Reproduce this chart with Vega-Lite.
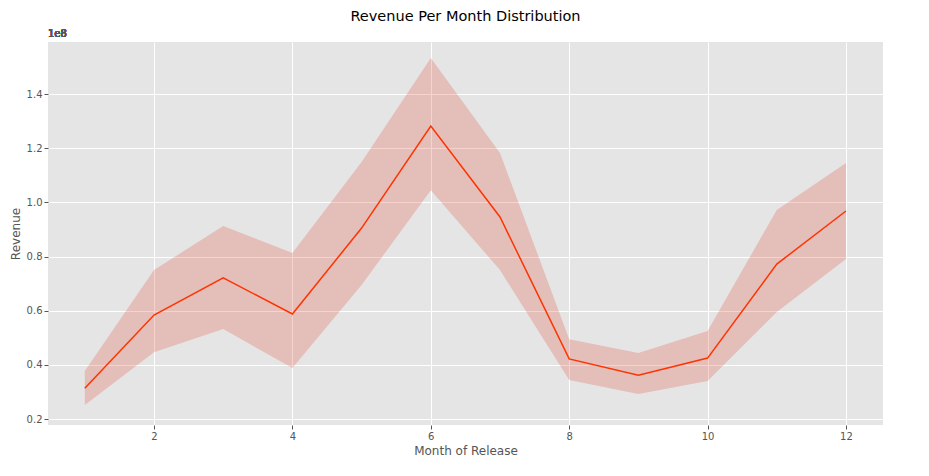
{
  "$schema": "https://vega.github.io/schema/vega-lite/v6.json",
  "width": 835,
  "height": 383,
  "autosize": {"type": "none"},
  "padding": {"left": 48, "top": 42, "right": 46, "bottom": 51},
  "background": "white",
  "title": {"text": "Revenue Per Month Distribution", "fontSize": 14.5, "fontWeight": "normal", "font": "DejaVu Sans", "color": "black", "offset": 5},
  "config": {
    "view": {"fill": "#e5e5e5", "stroke": null},
    "axis": {"gridColor": "white", "gridWidth": 1, "domain": false, "tickColor": "#555", "tickSize": 4, "labelColor": "#555", "labelFont": "DejaVu Sans", "labelFontSize": 10, "titleFont": "DejaVu Sans", "titleFontSize": 12, "titleFontWeight": "normal", "titleColor": "#555"}
  },
  "data": {"values": [
    {"month": 1, "mean": 0.314, "lo": 0.252, "hi": 0.377},
    {"month": 2, "mean": 0.584, "lo": 0.447, "hi": 0.750},
    {"month": 3, "mean": 0.721, "lo": 0.532, "hi": 0.913},
    {"month": 4, "mean": 0.588, "lo": 0.388, "hi": 0.813},
    {"month": 5, "mean": 0.905, "lo": 0.695, "hi": 1.149},
    {"month": 6, "mean": 1.282, "lo": 1.045, "hi": 1.533},
    {"month": 7, "mean": 0.946, "lo": 0.750, "hi": 1.182},
    {"month": 8, "mean": 0.422, "lo": 0.344, "hi": 0.495},
    {"month": 9, "mean": 0.362, "lo": 0.292, "hi": 0.444},
    {"month": 10, "mean": 0.425, "lo": 0.340, "hi": 0.525},
    {"month": 11, "mean": 0.772, "lo": 0.595, "hi": 0.972},
    {"month": 12, "mean": 0.968, "lo": 0.791, "hi": 1.145}
  ]},
  "encoding": {
    "x": {"field": "month", "type": "quantitative", "title": "Month of Release", "scale": {"domain": [0.468, 12.535], "nice": false, "zero": false}, "axis": {"values": [2, 4, 6, 8, 10, 12]}}
  },
  "layer": [
    {
      "mark": {"type": "area", "color": "#E24A33", "opacity": 0.25},
      "encoding": {
        "y": {"field": "lo", "type": "quantitative", "title": "Revenue", "scale": {"domain": [0.178, 1.592], "nice": false, "zero": false}, "axis": {"values": [0.2, 0.4, 0.6, 0.8, 1.0, 1.2, 1.4], "format": ".1f"}},
        "y2": {"field": "hi"}
      }
    },
    {
      "mark": {"type": "line", "color": "#FF3300", "strokeWidth": 1.5},
      "encoding": {"y": {"field": "mean", "type": "quantitative"}}
    },
    {
      "mark": {"type": "text", "text": "1e8", "align": "left", "baseline": "bottom", "fontSize": 10, "font": "DejaVu Sans", "color": "#555", "dy": -3},
      "encoding": {"x": {"datum": 0.468}, "y": {"datum": 1.592}}
    }
  ]
}
